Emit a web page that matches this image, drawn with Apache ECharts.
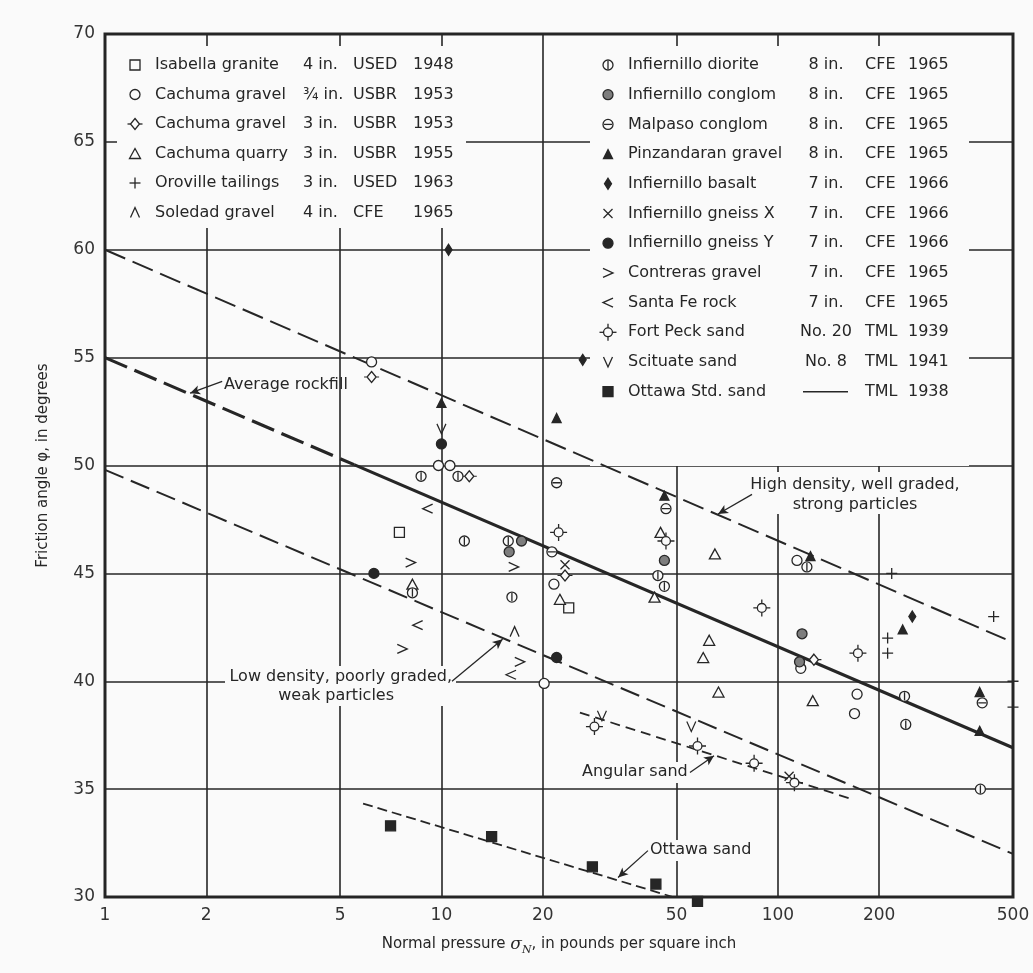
<!DOCTYPE html>
<html>
<head>
<meta charset="utf-8">
<title>Friction angle vs normal pressure</title>
<script src="https://cdn.jsdelivr.net/npm/echarts@6/dist/echarts.min.js"></script>
<style>
  html, body { margin: 0; padding: 0; background: #fafafa; }
  #chart { width: 1033px; height: 973px; }
</style>
</head>
<body>
<div id="chart"></div>
<script>
// axis ticks
var pressureTicks = [1, 2, 5, 10, 20, 50, 100, 200, 500];
var angleMin = 30, angleMax = 70, angleStep = 5;

// test points: [normal pressure psi, friction angle deg]
var isabellaGranite = [[7.5, 46.9], [23.9, 43.4]];
var cachumaGravelFine = [[6.2, 54.8], [9.8, 50.0], [10.6, 50.0], [21.6, 44.5], [20.2, 39.9], [114, 45.6], [117, 40.6], [172, 39.4], [169, 38.5]];
var cachumaGravelCoarse = [[6.2, 54.1], [12.1, 49.5], [23.3, 44.9], [128, 41.0]];
var cachumaQuarry = [[8.2, 44.5], [22.5, 43.8], [44.8, 46.9], [43.0, 43.9], [65.0, 45.9], [62.5, 41.9], [60.0, 41.1], [66.6, 39.5], [127, 39.1]];
var orovilleTailings = [[218, 45.0], [212, 42.0], [212, 41.3], [438, 43.0], [500, 40.0], [500, 38.8]];
var soledadGravel = [[16.5, 42.3]];
var infiernilloDiorite = [[8.7, 49.5], [11.2, 49.5], [11.7, 46.5], [15.8, 46.5], [8.2, 44.1], [16.2, 43.9], [44.0, 44.9], [46.0, 44.4], [122, 45.3], [238, 39.3], [240, 38.0], [400, 35.0]];
var infiernilloConglom = [[17.3, 46.5], [15.9, 46.0], [46.0, 45.6], [118, 42.2], [116, 40.9]];
var malpasoConglom = [[22.0, 49.2], [46.5, 48.0], [21.3, 46.0], [405, 39.0]];
var pinzandaranGravel = [[10, 52.9], [22.0, 52.2], [46.0, 48.6], [125, 45.8], [235, 42.4], [398, 39.5], [398, 37.7]];
var infiernilloBasalt = [[10.5, 60.0], [26.3, 54.9], [251, 43.0]];
var infiernilloGneissX = [[23.3, 45.4], [108, 35.6]];
var infiernilloGneissY = [[10, 51.0], [6.3, 45.0], [22.0, 41.1]];
var contrerasGravel = [[8.1, 45.5], [16.4, 45.3], [7.65, 41.5], [17.1, 40.9]];
var santaFeRock = [[9.1, 48.0], [8.5, 42.6], [16.1, 40.3]];
var fortPeckSand = [[22.3, 46.9], [46.5, 46.5], [89.6, 43.4], [173, 41.3], [28.5, 37.9], [57.7, 37.0], [85, 36.2], [112, 35.3]];
var scituateSand = [[10, 51.7], [30.0, 38.4], [55.3, 37.9]];
var ottawaStdSand = [[7.06, 33.3], [14.1, 32.8], [28.1, 31.4], [43.4, 30.6], [57.7, 29.8]];

// trend lines
var highDensityLine = [[1, 60], [475, 41.95]];
var rockfillDashed = [[1, 55], [5.5, 50.04]];
var rockfillSolid = [[5.5, 50.04], [500, 36.92]];
var lowDensityLine = [[1, 49.8], [500, 32.0]];
var angularSandLine = [[25.8, 38.55], [165, 34.55]];
var ottawaSandLine = [[5.85, 34.33], [48.8, 30.0]];

// leader arrows [from, to]
var arrowRockfill = [[2.23, 53.9], [1.79, 53.35]];
var arrowHighDensity = [[83.8, 48.66], [66.4, 47.75]];
var arrowLowDensity = [[10.75, 40.0], [15.2, 41.95]];
var arrowAngular = [[54.8, 35.77], [64.6, 36.55]];
var arrowOttawa = [[41.1, 32.15], [33.5, 30.9]];

var BG = '#fafafa';
var INK = '#262626';
var FONT = 'DejaVu Sans';
var NONE = 'rgba(0,0,0,0)';

// marker shapes in a 10x10 box
var SHAPES = {
  square: {closed: [[[0, 0], [10, 0], [10, 10], [0, 10]]]},
  circle: {circles: [[5, 5, 5]]},
  circleBar: {circles: [[5, 5, 5]], open: [[[5, 1], [5, 9]]]},
  circleMinus: {circles: [[5, 5, 5]], open: [[[1, 5], [9, 5]]]},
  triangle: {closed: [[[5, 0], [10, 10], [0, 10]]]},
  diamond: {closed: [[[5, 0], [10, 5], [5, 10], [0, 5]]]},
  ticked: {closed: [[[5, 0], [8, 5], [5, 10], [2, 5]]], open: [[[0, 5], [2, 5]], [[8, 5], [10, 5]]]},
  sun: {circles: [[5, 5, 2.6]], open: [[[5, 0], [5, 2.4]], [[5, 7.6], [5, 10]], [[0, 5], [2.4, 5]], [[7.6, 5], [10, 5]]]},
  plus: {open: [[[5, 0], [5, 10]], [[0, 5], [10, 5]]]},
  cross: {open: [[[0, 0], [10, 10]], [[10, 0], [0, 10]]]},
  lt: {open: [[[10, 0], [0, 5], [10, 10]]]},
  gt: {open: [[[0, 0], [10, 5], [0, 10]]]},
  caret: {open: [[[0, 10], [5, 0], [10, 10]]]},
  vee: {open: [[[0, 0], [5, 10], [10, 0]]]}
};

function poly(pts) {
  return pts.map(function (p, i) { return (i ? 'L' : 'M') + p[0] + ',' + p[1]; }).join(' ');
}

function symbolPath(s) {
  var d = [];
  (s.closed || []).forEach(function (pts) { d.push(poly(pts) + ' Z'); });
  (s.circles || []).forEach(function (c) {
    var r = c[2];
    d.push('M' + (c[0] - r) + ',' + c[1] + ' A' + r + ',' + r + ' 0 1,1 ' + (c[0] + r) + ',' + c[1] +
      ' A' + r + ',' + r + ' 0 1,1 ' + (c[0] - r) + ',' + c[1] + ' Z');
  });
  (s.open || []).forEach(function (pts) { d.push(poly(pts)); });
  return 'path://' + d.join(' ');
}

var materials = [
  {name: 'Isabella granite', data: isabellaGranite, shape: 'square', size: [10, 10], fill: BG, col: 0, grade: '4 in.', lab: 'USED', year: '1948'},
  {name: 'Cachuma gravel', data: cachumaGravelFine, shape: 'circle', size: [10, 10], fill: BG, col: 0, grade: '\u00be in.', lab: 'USBR', year: '1953'},
  {name: 'Cachuma gravel', data: cachumaGravelCoarse, shape: 'ticked', size: [15, 11], fill: BG, col: 0, grade: '3 in.', lab: 'USBR', year: '1953'},
  {name: 'Cachuma quarry', data: cachumaQuarry, shape: 'triangle', size: [11, 10], fill: BG, col: 0, grade: '3 in.', lab: 'USBR', year: '1955'},
  {name: 'Oroville tailings', data: orovilleTailings, shape: 'plus', size: [11, 11], fill: NONE, col: 0, grade: '3 in.', lab: 'USED', year: '1963'},
  {name: 'Soledad gravel', data: soledadGravel, shape: 'caret', size: [9, 10], fill: NONE, col: 0, grade: '4 in.', lab: 'CFE', year: '1965'},
  {name: 'Infiernillo diorite', data: infiernilloDiorite, shape: 'circleBar', size: [10, 10], fill: BG, col: 1, grade: '8 in.', lab: 'CFE', year: '1965'},
  {name: 'Infiernillo conglom', data: infiernilloConglom, shape: 'circle', size: [10, 10], fill: '#7d7d7d', col: 1, grade: '8 in.', lab: 'CFE', year: '1965'},
  {name: 'Malpaso conglom', data: malpasoConglom, shape: 'circleMinus', size: [10, 10], fill: BG, col: 1, grade: '8 in.', lab: 'CFE', year: '1965'},
  {name: 'Pinzandaran gravel', data: pinzandaranGravel, shape: 'triangle', size: [9, 9], fill: INK, col: 1, grade: '8 in.', lab: 'CFE', year: '1965'},
  {name: 'Infiernillo basalt', data: infiernilloBasalt, shape: 'diamond', size: [7, 11], fill: INK, col: 1, grade: '7 in.', lab: 'CFE', year: '1966'},
  {name: 'Infiernillo gneiss X', data: infiernilloGneissX, shape: 'cross', size: [9, 9], fill: NONE, col: 1, grade: '7 in.', lab: 'CFE', year: '1966'},
  {name: 'Infiernillo gneiss Y', data: infiernilloGneissY, shape: 'circle', size: [10, 10], fill: INK, col: 1, grade: '7 in.', lab: 'CFE', year: '1966'},
  {name: 'Contreras gravel', data: contrerasGravel, shape: 'gt', size: [10, 9], fill: NONE, col: 1, grade: '7 in.', lab: 'CFE', year: '1965'},
  {name: 'Santa Fe rock', data: santaFeRock, shape: 'lt', size: [10, 9], fill: NONE, col: 1, grade: '7 in.', lab: 'CFE', year: '1965'},
  {name: 'Fort Peck sand', data: fortPeckSand, shape: 'sun', size: [17, 17], fill: BG, col: 1, grade: 'No. 20', lab: 'TML', year: '1939'},
  {name: 'Scituate sand', data: scituateSand, shape: 'vee', size: [9, 10], fill: NONE, col: 1, grade: 'No. 8', lab: 'TML', year: '1941'},
  {name: 'Ottawa Std. sand', data: ottawaStdSand, shape: 'square', size: [10, 10], fill: INK, col: 1, grade: '', lab: 'TML', year: '1938'}
];

function toLog(points) {
  return points.map(function (p) { return [Math.log10(p[0]), p[1]]; });
}

function arrowLine(pts, curve) {
  var a = toLog(pts);
  return {
    silent: true, animation: false,
    symbol: ['none', 'arrow'], symbolSize: [7, 10],
    label: {show: false},
    lineStyle: {color: INK, width: 1.3, type: 'solid', curveness: curve},
    data: [[{coord: a[0]}, {coord: a[1]}]]
  };
}

function trend(data, width, dash, arrow) {
  var s = {
    type: 'line', data: toLog(data), symbol: 'none', silent: true, z: 3,
    lineStyle: {color: INK, width: width, type: dash}
  };
  if (arrow) s.markLine = arrow;
  return s;
}

var series = [
  trend(highDensityLine, 2, [22, 8], arrowLine(arrowHighDensity, -0.35)),
  trend(rockfillDashed, 3.2, [24, 8], arrowLine(arrowRockfill, 0.3)),
  trend(rockfillSolid, 3.2, 'solid'),
  trend(lowDensityLine, 2, [20, 8], arrowLine(arrowLowDensity, 0.3)),
  trend(angularSandLine, 1.8, [10, 6], arrowLine(arrowAngular, -0.2)),
  trend(ottawaSandLine, 1.8, [10, 5], arrowLine(arrowOttawa, 0.35))
];

materials.forEach(function (m) {
  series.push({
    type: 'scatter', name: m.name, data: toLog(m.data), silent: true, clip: false, z: 5,
    symbol: symbolPath(SHAPES[m.shape]), symbolSize: m.size,
    itemStyle: {color: m.fill, borderColor: INK, borderWidth: 1.3, opacity: 1}
  });
});

// legend tables and label panels drawn as graphics
var graphics = [
  {type: 'rect', z: 1, shape: {x: 117, y: 46, width: 349, height: 182}, style: {fill: BG}},
  {type: 'rect', z: 1, shape: {x: 590, y: 46, width: 379, height: 420}, style: {fill: BG}},
  {type: 'rect', z: 1, shape: {x: 748, y: 472, width: 214, height: 42}, style: {fill: BG}},
  {type: 'rect', z: 1, shape: {x: 225, y: 666, width: 231, height: 40}, style: {fill: BG}},
  {type: 'rect', z: 1, shape: {x: 578, y: 762, width: 114, height: 21}, style: {fill: BG}},
  {type: 'rect', z: 1, shape: {x: 646, y: 840, width: 106, height: 21}, style: {fill: BG}}
];

function txt(s, x, y, align) {
  return {type: 'text', z: 10, x: x, y: y,
    style: {text: s, fill: INK, fontSize: 16, fontFamily: FONT, align: align || 'left', verticalAlign: 'middle'}};
}

function legendGlyph(s, cx, cy, size, fill) {
  var w = size[0], h = size[1], x0 = cx - w / 2, y0 = cy - h / 2;
  var tp = function (p) { return [x0 + p[0] * w / 10, y0 + p[1] * h / 10]; };
  var st = {fill: fill, stroke: INK, lineWidth: 1.3};
  var out = [];
  (s.closed || []).forEach(function (pts) {
    out.push({type: 'polygon', z: 10, shape: {points: pts.map(tp)}, style: st});
  });
  (s.circles || []).forEach(function (c) {
    var q = tp([c[0], c[1]]);
    out.push({type: 'circle', z: 10, shape: {cx: q[0], cy: q[1], r: c[2] * w / 10}, style: st});
  });
  (s.open || []).forEach(function (pts) {
    out.push({type: 'polyline', z: 10, shape: {points: pts.map(tp)}, style: {fill: null, stroke: INK, lineWidth: 1.3}});
  });
  return out;
}

var rowL = 0, rowR = 0;
materials.forEach(function (m) {
  var c = m.col === 0
    ? {sym: 135, name: 155, grade: 303, gradeAlign: 'left', lab: 353, year: 413, y: 65 + rowL++ * 29.5}
    : {sym: 608, name: 628, grade: 826, gradeAlign: 'center', lab: 865, year: 908, y: 65 + rowR++ * 29.7};
  graphics = graphics.concat(legendGlyph(SHAPES[m.shape], c.sym, c.y, m.size, m.fill));
  graphics.push(txt(m.name, c.name, c.y));
  if (m.grade) {
    graphics.push(txt(m.grade, c.grade, c.y, c.gradeAlign));
  } else {
    graphics.push({type: 'line', z: 10, shape: {x1: 803, y1: c.y, x2: 848, y2: c.y}, style: {stroke: INK, lineWidth: 1.5}});
  }
  graphics.push(txt(m.lab, c.lab, c.y));
  graphics.push(txt(m.year, c.year, c.y));
});

graphics.push(txt('Average rockfill', 224, 385));
graphics.push(txt('High density, well graded,', 855, 485, 'center'));
graphics.push(txt('strong particles', 855, 505, 'center'));
graphics.push(txt('Low density, poorly graded,', 452, 677, 'right'));
graphics.push(txt('weak particles', 394, 696, 'right'));
graphics.push(txt('Angular sand', 582, 772));
graphics.push(txt('Ottawa sand', 650, 850));

var logTicks = pressureTicks.map(function (v) { return Math.log10(v); });

var chart = echarts.init(document.getElementById('chart'));
chart.setOption({
  backgroundColor: BG,
  animation: false,
  grid: {left: 105, right: 20, top: 34, bottom: 76, show: true, borderColor: INK, borderWidth: 3},
  xAxis: {
    type: 'value', min: logTicks[0], max: logTicks[logTicks.length - 1],
    axisLine: {show: false},
    axisTick: {show: false, customValues: logTicks},
    axisLabel: {
      customValues: logTicks, fontSize: 17, color: '#333', margin: 10, fontFamily: FONT,
      formatter: function (v) { return String(Math.round(Math.pow(10, v))); }
    },
    splitLine: {show: true, lineStyle: {color: INK, width: 1.6}},
    name: '{t|Normal pressure }{s|\u03c3}{n|N}{t|, in pounds per square inch}',
    nameLocation: 'middle', nameGap: 36,
    nameTextStyle: {
      rich: {
        t: {fontSize: 15, color: INK, fontFamily: FONT},
        s: {fontSize: 17, color: INK, fontFamily: 'DejaVu Serif', fontStyle: 'italic'},
        n: {fontSize: 11, color: INK, fontFamily: 'DejaVu Serif', fontStyle: 'italic', padding: [12, 0, 0, 0]}
      }
    }
  },
  yAxis: {
    type: 'value', min: angleMin, max: angleMax, interval: angleStep,
    axisLine: {show: false}, axisTick: {show: false},
    axisLabel: {fontSize: 17, color: '#333', margin: 10, fontFamily: FONT},
    splitLine: {show: true, lineStyle: {color: INK, width: 1.6}},
    name: 'Friction angle \u03c6, in degrees',
    nameLocation: 'middle', nameGap: 54, nameRotate: 90,
    nameTextStyle: {fontSize: 15, color: INK, fontFamily: FONT}
  },
  graphic: graphics,
  series: series
});
</script>
</body>
</html>
